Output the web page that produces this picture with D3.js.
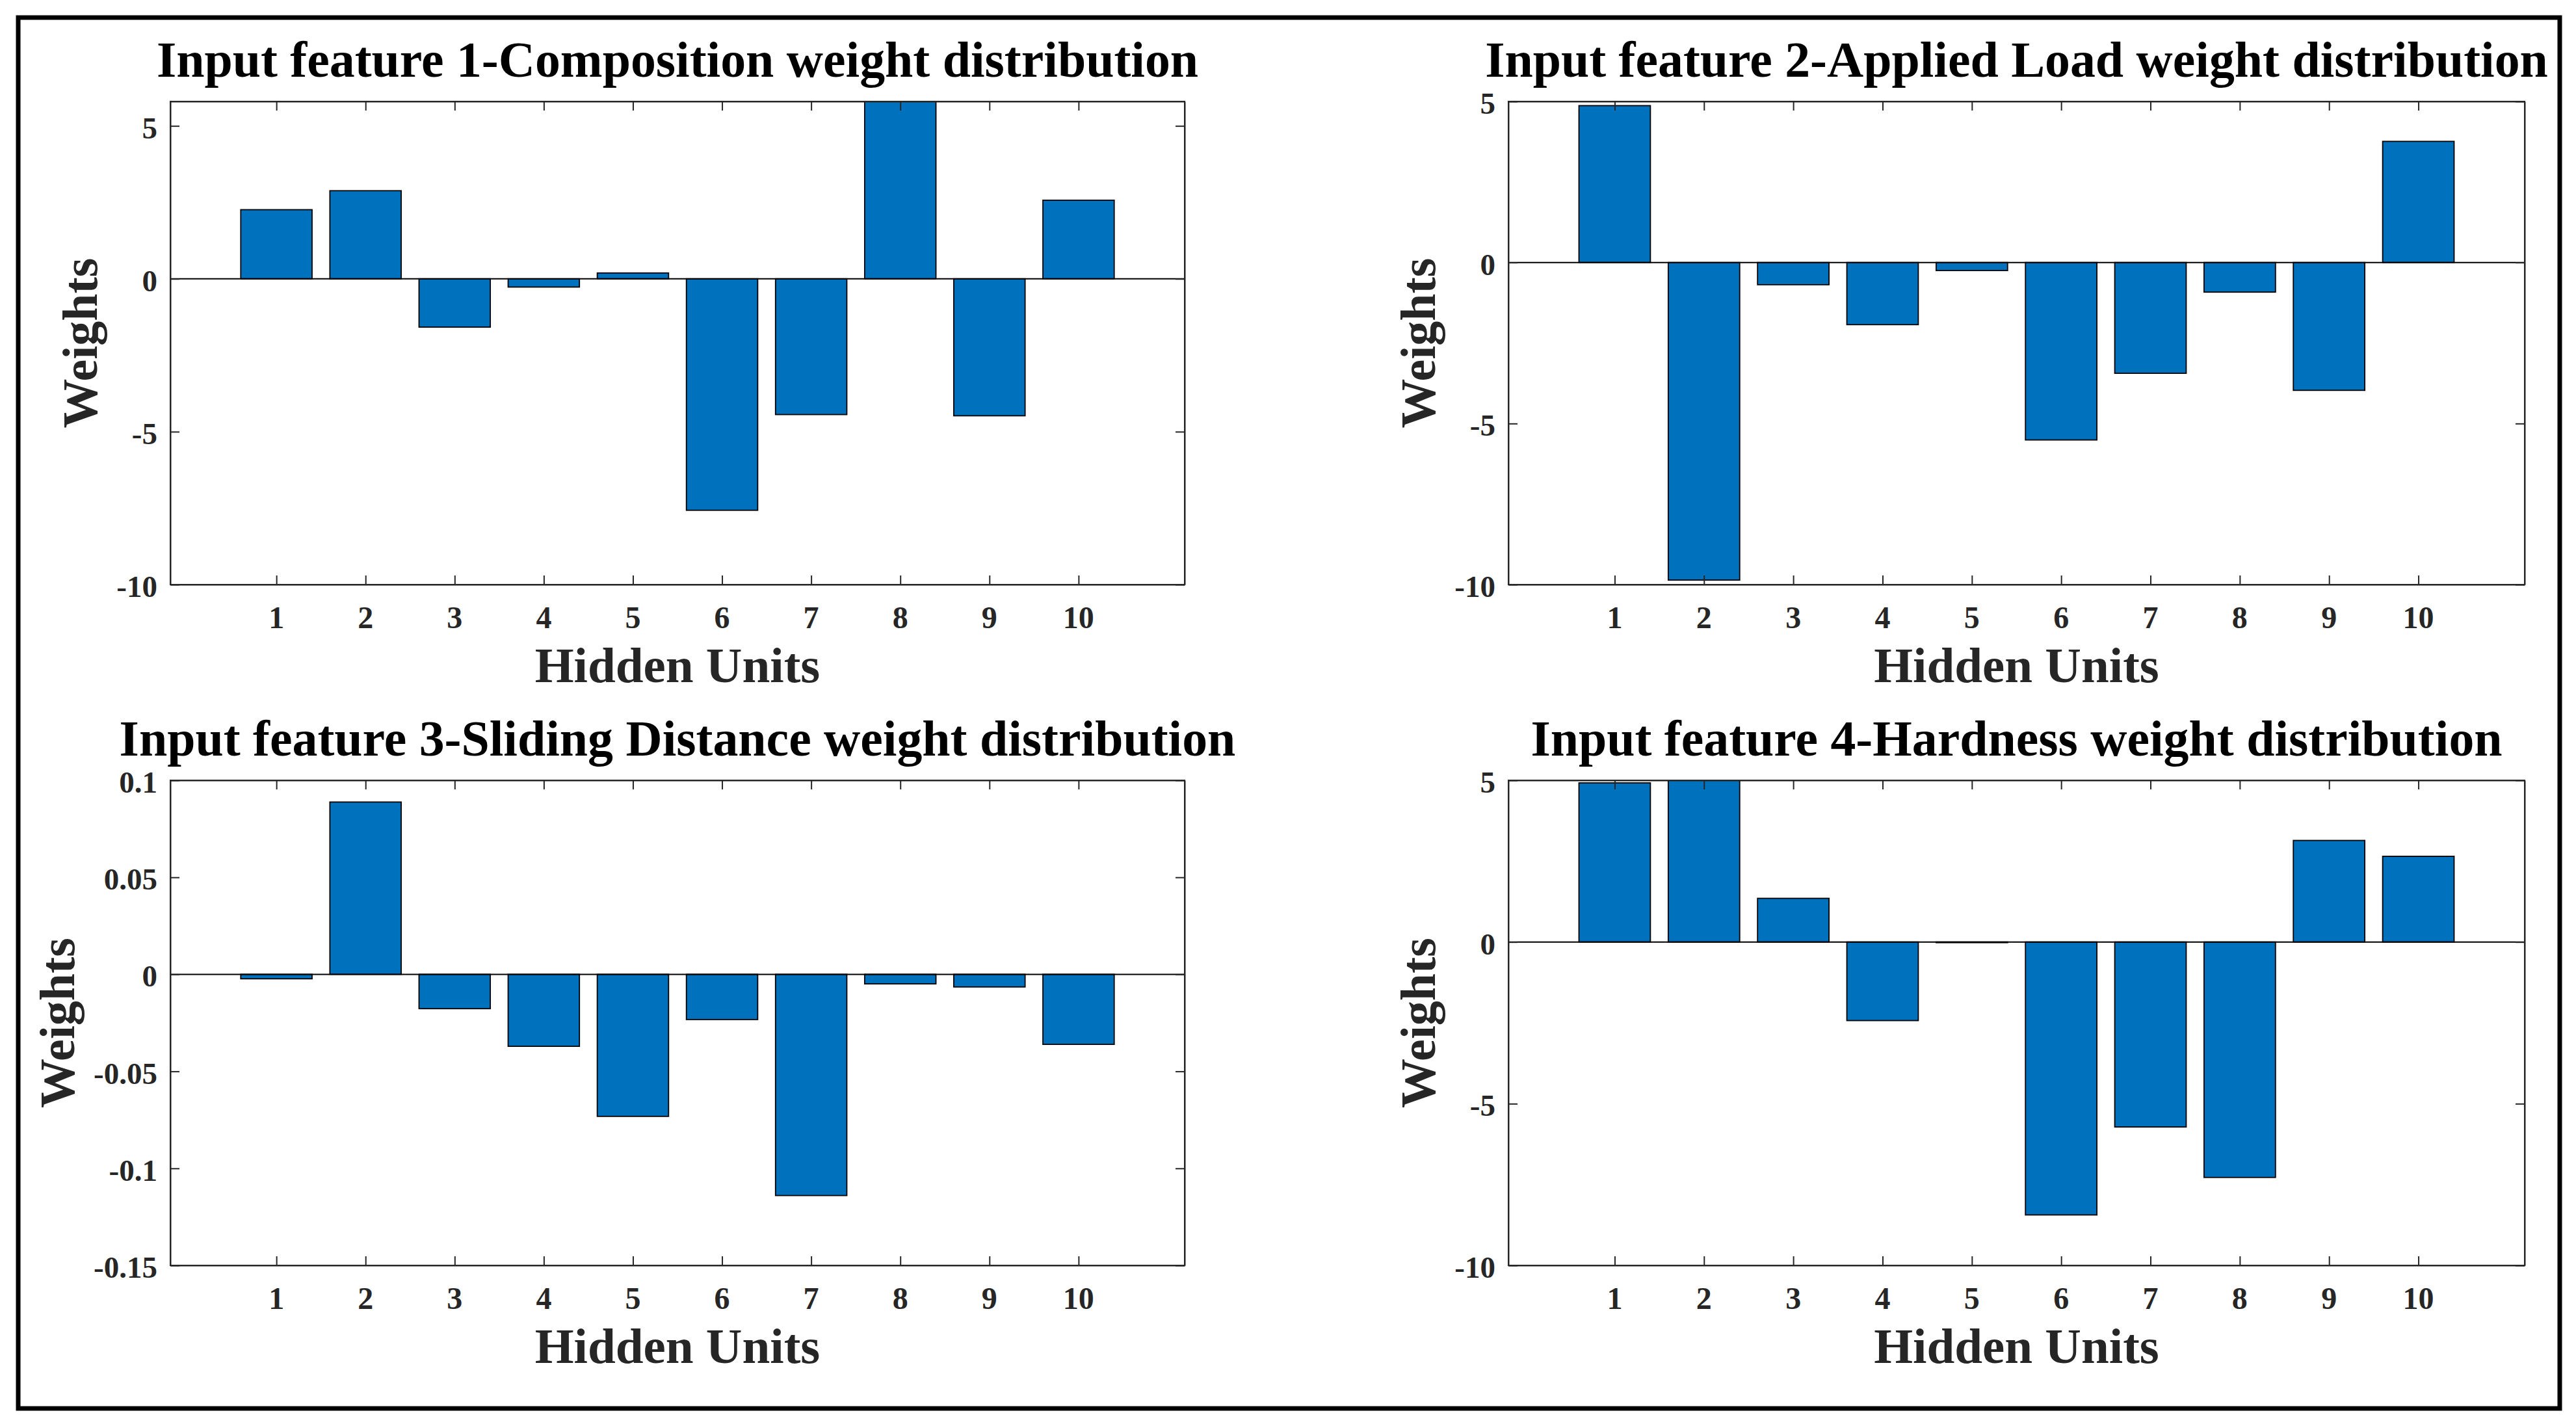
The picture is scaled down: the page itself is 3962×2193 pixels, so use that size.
<!DOCTYPE html>
<html>
<head>
<meta charset="utf-8">
<script src="https://cdn.jsdelivr.net/npm/d3@7"></script>
<style>
  body { margin: 0; background: #fff; }
  text { font-family: "Liberation Serif", "Times New Roman", serif; font-weight: bold; }
</style>
</head>
<body>
<div id="chart"></div>
<script>
// data
var hiddenUnits = [1, 2, 3, 4, 5, 6, 7, 8, 9, 10];

var compositionW = [2.26, 2.88, -1.58, -0.27, 0.19, -7.57, -4.44, 5.9, -4.48, 2.57];
var appliedLoadW = [4.87, -9.86, -0.69, -1.93, -0.25, -5.51, -3.44, -0.92, -3.97, 3.76];
var slidingDistW = [-0.0023, 0.0888, -0.0177, -0.0371, -0.0732, -0.0233, -0.114, -0.0049, -0.0065, -0.0361];
var hardnessW = [4.92, 5.1, 1.35, -2.43, -0.02, -8.44, -5.72, -7.28, 3.14, 2.65];

var titles = [
  "Input feature 1-Composition weight distribution",
  "Input feature 2-Applied Load weight distribution",
  "Input feature 3-Sliding Distance weight distribution",
  "Input feature 4-Hardness weight distribution"
];

var yDomains = [[-10, 5.8], [-10, 5], [-0.15, 0.1], [-10, 5]];
var yTicks = [[-10, -5, 0, 5], [-10, -5, 0, 5], [-0.15, -0.1, -0.05, 0, 0.05, 0.1], [-10, -5, 0, 5]];
var series = [compositionW, appliedLoadW, slidingDistW, hardnessW];

// svg size
var svgWidth = 3962;
var svgHeight = 2193;

// where each axes box sits
var boxes = [
  {left: 262, right: 1822, top: 156, bottom: 899},
  {left: 2320, right: 3883, top: 156, bottom: 899},
  {left: 262, right: 1822, top: 1200, bottom: 1946},
  {left: 2320, right: 3883, top: 1200, bottom: 1946}
];

var axisColor = "#262626";
var barColor = "#0072BD";
var tickLen = 14;

var svg = d3.select("#chart")
  .append("svg")
  .attr("width", svgWidth)
  .attr("height", svgHeight);

// outer frame
svg.append("rect")
  .attr("x", 28)
  .attr("y", 27)
  .attr("width", 3909)
  .attr("height", 2139)
  .attr("fill", "none")
  .attr("stroke", "#000")
  .attr("stroke-width", 7);

function drawPanel(i) {
  var b = boxes[i];
  var data = series[i];

  var x = d3.scaleLinear().domain([-0.19, 11.19]).range([b.left, b.right]);
  var y = d3.scaleLinear().domain(yDomains[i]).range([b.bottom, b.top]);

  var g = svg.append("g");

  // clip so bars past the limits get cut at the box
  g.append("clipPath")
    .attr("id", "clip" + i)
    .append("rect")
    .attr("x", b.left)
    .attr("y", b.top)
    .attr("width", b.right - b.left)
    .attr("height", b.bottom - b.top);

  g.append("g")
    .attr("clip-path", "url(#clip" + i + ")")
    .selectAll("rect")
    .data(data)
    .enter()
    .append("rect")
    .attr("x", (d, j) => x(hiddenUnits[j] - 0.4))
    .attr("width", x(0.8) - x(0))
    .attr("y", d => y(Math.max(0, d)))
    .attr("height", d => Math.abs(y(d) - y(0)))
    .attr("fill", barColor)
    .attr("stroke", "#000")
    .attr("stroke-width", 1.8);

  // zero baseline
  g.append("line")
    .attr("x1", b.left)
    .attr("x2", b.right)
    .attr("y1", y(0))
    .attr("y2", y(0))
    .attr("stroke", "#000")
    .attr("stroke-width", 2);

  // all four sides get inward ticks (box on)
  var xAxis = d3.axisBottom(x).tickValues(hiddenUnits).tickSizeInner(-tickLen).tickSizeOuter(0).tickFormat("");
  var yAxis = d3.axisLeft(y).tickValues(yTicks[i]).tickSizeInner(-tickLen).tickSizeOuter(0).tickFormat("");
  var xTop = d3.axisTop(x).tickValues(hiddenUnits).tickSizeInner(-tickLen).tickSizeOuter(0).tickFormat("");
  var yRight = d3.axisRight(y).tickValues(yTicks[i]).tickSizeInner(-tickLen).tickSizeOuter(0).tickFormat("");

  var axes = [
    g.append("g").attr("transform", "translate(0," + b.bottom + ")").call(xAxis),
    g.append("g").attr("transform", "translate(" + b.left + ",0)").call(yAxis),
    g.append("g").attr("transform", "translate(0," + b.top + ")").call(xTop),
    g.append("g").attr("transform", "translate(" + b.right + ",0)").call(yRight)
  ];
  axes.forEach(a => {
    a.selectAll("path, line").attr("stroke", axisColor).attr("stroke-width", 2);
  });
  // box edges
  g.append("rect")
    .attr("x", b.left)
    .attr("y", b.top)
    .attr("width", b.right - b.left)
    .attr("height", b.bottom - b.top)
    .attr("fill", "none")
    .attr("stroke", axisColor)
    .attr("stroke-width", 2);

  // tick labels
  g.selectAll(".xl")
    .data(hiddenUnits)
    .enter()
    .append("text")
    .attr("x", d => x(d))
    .attr("y", b.bottom + 67)
    .attr("text-anchor", "middle")
    .attr("font-size", 48)
    .attr("fill", axisColor)
    .text(d => d);

  var yl = g.selectAll(".yl")
    .data(yTicks[i])
    .enter()
    .append("text")
    .attr("x", b.left - 20)
    .attr("y", d => y(d) + 19)
    .attr("text-anchor", "end")
    .attr("font-size", 47)
    .attr("fill", axisColor)
    .text(d => String(d));

  var minLeft = d3.min(yl.nodes(), n => n.getBBox().x);

  // title
  g.append("text")
    .attr("x", (b.left + b.right) / 2)
    .attr("y", b.top - 38)
    .attr("text-anchor", "middle")
    .attr("font-size", 77.8)
    .attr("fill", "#000")
    .text(titles[i]);

  // axis titles
  g.append("text")
    .attr("x", (b.left + b.right) / 2)
    .attr("y", b.bottom + 150)
    .attr("text-anchor", "middle")
    .attr("font-size", 77)
    .attr("fill", axisColor)
    .text("Hidden Units");

  var labX = minLeft - 48 + 18;
  var labY = (b.top + b.bottom) / 2;
  g.append("text")
    .attr("transform", "translate(" + labX + "," + labY + ") rotate(-90)")
    .attr("text-anchor", "middle")
    .attr("font-size", 76)
    .attr("fill", axisColor)
    .text("Weights");
}

for (var i = 0; i < 4; i++) {
  drawPanel(i);
}
</script>
</body>
</html>
